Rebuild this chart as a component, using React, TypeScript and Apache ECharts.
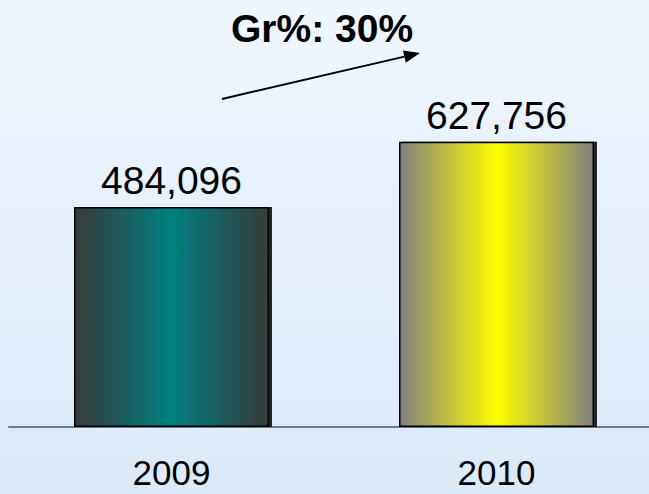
import React, { useEffect, useRef } from "react";
import * as echarts from "echarts";

const categories = ["2009", "2010"];
const values = [484096, 627756];
const growthLabel = "Gr%: 30%";

const barGradients = [
  ["#383a3a", "#008080"],
  ["#808080", "#ffff00"],
];

function hGrad(edge: string, center: string) {
  return new echarts.graphic.LinearGradient(0, 0, 1, 0, [
    { offset: 0, color: edge },
    { offset: 0.5, color: center },
    { offset: 1, color: edge },
  ]);
}

export default function App() {
  const ref = useRef<HTMLDivElement>(null);
  useEffect(() => {
    if (!ref.current) return;
    const chart = echarts.init(ref.current, undefined, { renderer: "svg" });
    const font = "'Liberation Sans', Arial, sans-serif";
    const tip = [420, 53];
    const base = [404.4, 56.6];
    chart.setOption({
      animation: false,
      backgroundColor: new echarts.graphic.LinearGradient(0, 0, 0, 1, [
        { offset: 0, color: "#eff6fe" },
        { offset: 1, color: "#dbe9f8" },
      ]),
      grid: {
        left: 9,
        width: 650,
        top: 0,
        bottom: 67,
        outerBoundsMode: "none",
        containLabel: false,
      },
      xAxis: {
        type: "category",
        data: categories,
        axisLine: { show: true, lineStyle: { color: "#6f7a86", width: 2 } },
        axisTick: { show: false },
        axisLabel: {
          color: "#000",
          fontSize: 35,
          fontFamily: font,
          margin: 28,
        },
      },
      yAxis: {
        type: "value",
        min: 0,
        max: 940000,
        show: false,
        splitLine: { show: false },
      },
      series: [
        {
          type: "bar",
          barWidth: 195,
          data: values.map((v, i) => ({
            value: v,
            itemStyle: {
              color: hGrad(barGradients[i][0], barGradients[i][1]),
              borderColor: "#000",
              borderWidth: 1.5,
              shadowColor: "rgba(0,0,0,0.85)",
              shadowOffsetX: 3,
              shadowOffsetY: 0,
              shadowBlur: 0,
            },
          })),
          label: {
            show: true,
            position: "top",
            distance: 7,
            color: "#000",
            fontSize: 39,
            fontFamily: font,
            formatter: (p: any) => Number(p.value).toLocaleString("en-US"),
          },
        },
      ],
      graphic: [
        {
          type: "text",
          left: 231,
          top: 9,
          style: {
            text: growthLabel,
            fill: "#000",
            font: `bold 39px ${font}`,
          },
        },
        {
          type: "line",
          shape: { x1: 222, y1: 99, x2: base[0], y2: base[1] },
          style: { stroke: "#000", lineWidth: 2 },
        },
        {
          type: "polygon",
          shape: {
            points: [
              [tip[0], tip[1]],
              [405.8, 62.8],
              [403.0, 50.4],
            ],
          },
          style: { fill: "#000" },
        },
      ],
    });
    return () => chart.dispose();
  }, []);
  return (
    <div
      ref={ref}
      style={{ position: "fixed", left: 0, top: 0, width: 649, height: 494 }}
    />
  );
}
